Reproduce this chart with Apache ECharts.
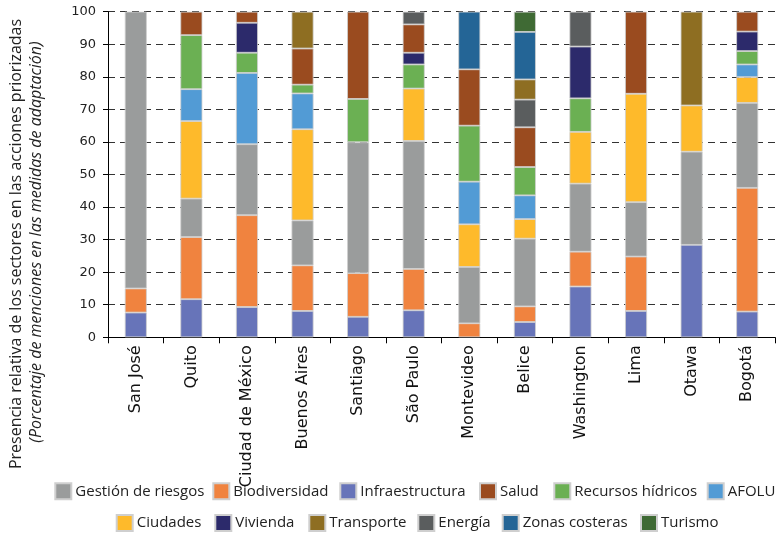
<!DOCTYPE html>
<html><head><meta charset="utf-8">
<script src="https://cdn.jsdelivr.net/npm/echarts@6/dist/echarts.min.js"></script>
<style>html,body{margin:0;padding:0;background:#fff}#c{width:777px;height:538px}</style>
</head><body><div id="c"></div>
<script>
const cities = ['San José','Quito','Ciudad de México','Buenos Aires','Santiago','São Paulo','Montevideo','Belice','Washington','Lima','Otawa','Bogotá'];
const infraestructura = [7.6, 11.7, 9.3, 8.1, 6.3, 8.3, 0, 4.7, 15.6, 8.1, 28.4, 7.9];
const biodiversidad   = [7.4, 19.1, 28.2, 14.0, 13.4, 12.7, 4.3, 4.8, 10.7, 16.7, 0, 38.0];
const gestionRiesgos  = [85.0, 11.8, 21.8, 13.8, 40.2, 39.3, 17.3, 20.8, 20.9, 16.7, 28.6, 26.1];
const ciudades        = [0, 23.8, 0, 28.0, 0, 16.1, 13.1, 6.0, 15.9, 33.3, 14.2, 7.9];
const afolu           = [0, 9.8, 21.9, 11.0, 0, 0, 13.1, 7.3, 0, 0, 0, 3.9];
const recursosHidricos= [0, 16.6, 6.2, 2.7, 13.3, 7.4, 17.2, 8.7, 10.3, 0, 0, 4.1];
const vivienda        = [0, 0, 9.2, 0, 0, 3.6, 0, 0, 15.9, 0, 0, 6.0];
const salud           = [0, 7.2, 3.4, 11.1, 26.8, 8.7, 17.3, 12.2, 0, 25.2, 0, 6.1];
const energia         = [0, 0, 0, 0, 0, 3.9, 0, 8.5, 10.7, 0, 0, 0];
const transporte      = [0, 0, 0, 11.3, 0, 0, 0, 6.2, 0, 0, 28.8, 0];
const zonasCosteras   = [0, 0, 0, 0, 0, 0, 17.7, 14.6, 0, 0, 0, 0];
const turismo         = [0, 0, 0, 0, 0, 0, 0, 6.2, 0, 0, 0, 0];
const yTicks = [0,10,20,30,40,50,60,70,80,90,100];

const stack = [
  ['Infraestructura', infraestructura, '#6774B9'],
  ['Biodiversidad', biodiversidad, '#F0833F'],
  ['Gestión de riesgos', gestionRiesgos, '#9A9C9C'],
  ['Ciudades', ciudades, '#FEBA2B'],
  ['AFOLU', afolu, '#529BD5'],
  ['Recursos hídricos', recursosHidricos, '#6BB053'],
  ['Vivienda', vivienda, '#2C2A6B'],
  ['Salud', salud, '#9A4B1F'],
  ['Energía', energia, '#5A5D5E'],
  ['Transporte', transporte, '#8E6E22'],
  ['Zonas costeras', zonasCosteras, '#246596'],
  ['Turismo', turismo, '#3F6A34']
];
const legendRow1 = ['Gestión de riesgos','Biodiversidad','Infraestructura','Salud','Recursos hídricos','AFOLU'];
const legendRow2 = ['Ciudades','Vivienda','Transporte','Energía','Zonas costeras','Turismo'];
const legendRow1Left = [54.3, 212.3, 339.3, 479, 553.3, 706.7];
const legendRow2Left = [115.7, 214.3, 308.3, 417.3, 501.7, 640];

function legendItem(name, left, top){
  return {
    data:[name], left:left, top:top, padding:0, itemWidth:16, itemHeight:16, itemGap:0,
    icon:'rect', selectedMode:false,
    textStyle:{fontFamily:'Open Sans', fontSize:15, color:'#222', padding:[0,0,0,-1]}
  };
}
const legends = [];
legendRow1.forEach(function(n,i){ legends.push(legendItem(n, legendRow1Left[i], 482.3)); });
legendRow2.forEach(function(n,i){ legends.push(legendItem(n, legendRow2Left[i], 514)); });

const chart = echarts.init(document.getElementById('c'));
chart.setOption({
  animation:false,
  grid:{left:108, right:2, top:11.7, bottom:200.7, containLabel:false},
  legend:legends,
  xAxis:{
    type:'category', data:cities,
    axisLine:{show:true, lineStyle:{color:'#000', width:1}},
    axisTick:{show:true, length:6, lineStyle:{color:'#000'}},
    axisLabel:{rotate:90, margin:8, fontFamily:'DejaVu Sans', fontSize:16, color:'#111', interval:0}
  },
  yAxis:{
    type:'value', min:0, max:100, interval:10,
    axisLine:{show:true, lineStyle:{color:'#000', width:1}},
    axisTick:{show:true, length:5, lineStyle:{color:'#000'}},
    axisLabel:{margin:12, fontFamily:'DejaVu Sans', fontSize:13, color:'#222',
      formatter:function(v){return yTicks.indexOf(v)>=0 ? String(v) : '';}},
    splitLine:{show:true, lineStyle:{color:'#333', type:[7,5], width:1}}
  },
  graphic:[
    {type:'text', x:16.5, y:244, rotation:Math.PI/2,
     style:{text:'Presencia relativa de los sectores en las acciones priorizadas', fontFamily:'Open Sans', fontSize:16, fill:'#222', align:'center', verticalAlign:'middle'}},
    {type:'text', x:36, y:242, rotation:Math.PI/2,
     style:{text:'(Porcentaje de menciones en las medidas de adaptación)', fontFamily:'Open Sans', fontStyle:'italic', fontSize:16, fill:'#222', align:'center', verticalAlign:'middle'}}
  ],
  series: stack.map(function(s){
    return {
      name:s[0], type:'bar', stack:'total', barWidth:22,
      data:s[1].map(function(v){return v===0 ? '-' : v;}),
      itemStyle:{color:s[2], borderColor:'#cfcfcf', borderWidth:0.8}
    };
  })
});
</script></body></html>
